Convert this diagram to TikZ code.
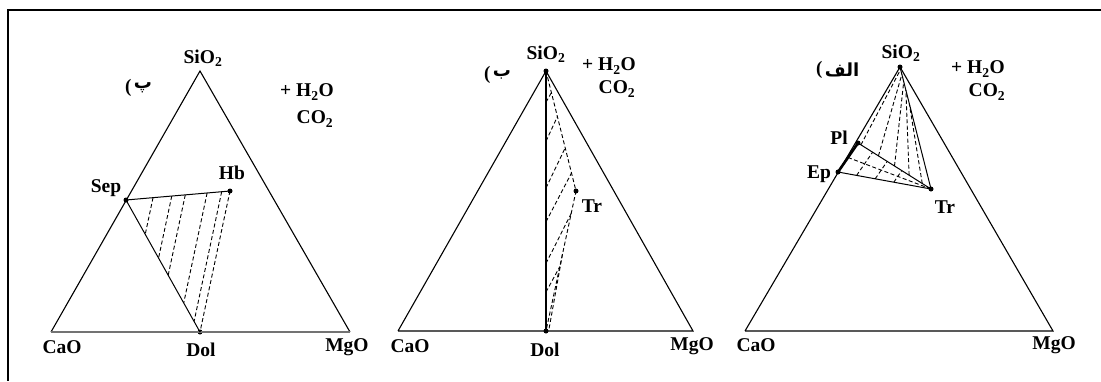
\documentclass[tikz,border=0pt]{standalone}
\usepackage{fontspec}
\setmainfont{Liberation Serif}
\newfontfamily\arabicfont[Script=Arabic]{DejaVu Sans}
\TeXXeTstate=1
\usetikzlibrary{calc}
\begin{document}
\begin{tikzpicture}[x=1pt,y=-1pt,
  lbl/.style={font=\fontsize{19.5}{21}\selectfont\bfseries, inner sep=0pt},
  plbl/.style={font=\fontsize{18}{20}\selectfont\arabicfont\bfseries, inner sep=0pt},
  parlbl/.style={font=\fontsize{19}{21}\selectfont\bfseries, inner sep=0pt, anchor=east},
  side/.style={line width=1.1pt},
  tie/.style={line width=1pt},
  hatch/.style={line width=0.9pt, dash pattern=on 4pt off 2.5pt},
  dot/.style={circle, fill, inner sep=0pt, minimum size=5pt}]
\useasboundingbox (0,0) rectangle (1101,381);
% frame
\coordinate (FR) at (1101,10);
\coordinate (FC) at (8,10);
\coordinate (FB) at (8,381);
\draw[line width=2.5pt] (FR) -- (FC) -- (FB);

% ---------- panel 1 ----------
\coordinate (A1) at (200,71);
\coordinate (C1) at (51,332);
\coordinate (M1) at (350,332);
\node[dot] (Sep) at (126,200) {};
\node[dot] (Hb) at (230,191) {};
\node[dot] (Dol1) at (200,332) {};
\draw[side] (C1) -- (A1) -- (M1);
\draw[line width=2.5pt, black!55] (C1) -- (M1);
\draw[tie] (Sep.center) -- (Hb.center);
\draw[tie] (Sep.center) -- (Dol1.center);
\draw[hatch] (Hb.center) -- (Dol1.center);
\foreach \f in {0.26,0.44,0.57,0.78,0.92}
  \draw[hatch] ($(Sep.center)!\f!(Hb.center)$) -- ($(Sep.center)!\f!(Dol1.center)$);
\node[lbl] (tA1) at (203,58) {SiO\textsubscript{2}};
\node[plbl] (tP1) at (143,88) {\beginR پ\endR};
\node[parlbl] (pP1) at ([xshift=-2pt]tP1.west) {(};
\node[lbl] (tH1) at (307,92) {+ H\textsubscript{2}O};
\node[lbl] (tO1) at (315,119) {CO\textsubscript{2}};
\node[lbl] (tSep) at (106,188) {Sep};
\node[lbl] (tHb) at (232,173) {Hb};
\node[lbl] (tC1) at (62,347) {CaO};
\node[lbl] (tD1) at (201,350) {Dol};
\node[lbl] (tM1) at (347,347) {MgO};

% ---------- panel 2 ----------
\node[dot] (A2) at (546,71) {};
\coordinate (C2) at (398,331);
\coordinate (M2) at (693,331);
\node[dot] (Dol2) at (546,331) {};
\node[dot] (Tr2) at (576,191) {};
\draw[side] (C2) -- (A2.center) -- (M2) -- (C2);
\draw[line width=1.3pt] (A2.center) -- (Dol2.center);
\draw[hatch] (A2.center) -- (Tr2.center) -- (Dol2.center);
\draw[hatch] ($(Tr2.center)!0.45!(Dol2.center)$) -- ($(Dol2.center)+(3,-2)$);
\draw[hatch] ($(A2.center)!0.12!(Dol2.center)$) -- ($(A2.center)!0.18!(Tr2.center)$);
\draw[hatch] ($(A2.center)!0.27!(Dol2.center)$) -- ($(A2.center)!0.38!(Tr2.center)$);
\draw[hatch] ($(A2.center)!0.45!(Dol2.center)$) -- ($(A2.center)!0.64!(Tr2.center)$);
\draw[hatch] ($(A2.center)!0.58!(Dol2.center)$) -- ($(A2.center)!0.85!(Tr2.center)$);
\draw[hatch] ($(A2.center)!0.74!(Dol2.center)$) -- ($(Tr2.center)!0.16!(Dol2.center)$);
\draw[hatch] ($(A2.center)!0.85!(Dol2.center)$) -- ($(Tr2.center)!0.54!(Dol2.center)$);
\node[lbl] (tA2) at (546,54) {SiO\textsubscript{2}};
\node[plbl] (tP2) at (502,75) {\beginR ب\endR};
\node[parlbl] (pP2) at ([xshift=-2pt]tP2.west) {(};
\node[lbl] (tH2) at (609,66) {+ H\textsubscript{2}O};
\node[lbl] (tO2) at (617,89) {CO\textsubscript{2}};
\node[lbl] (tTr2) at (592,206) {Tr};
\node[lbl] (tC2) at (410,346) {CaO};
\node[lbl] (tD2) at (545,350) {Dol};
\node[lbl] (tM2) at (692,346) {MgO};

% ---------- panel 3 ----------
\node[dot] (A3) at (900,67) {};
\coordinate (C3) at (745,331);
\coordinate (M3) at (1053,331);
\node[dot] (Pl) at (858,143) {};
\node[dot] (Ep) at (838,172) {};
\node[dot] (Tr3) at (931,189) {};
\draw[side] (C3) -- (A3.center) -- (M3) -- (C3);
\draw[line width=2.6pt] (Pl.center) -- (Ep.center);
\draw[tie] (A3.center) -- (Tr3.center);
\draw[tie] (Pl.center) -- (Tr3.center);
\draw[tie] (Ep.center) -- (Tr3.center);
\draw[hatch] ($(Pl.center)!0.5!(Ep.center)$) -- (Tr3.center);
\foreach \f/\g in {0.04/0.02,0.28/0.06,0.5/0.12,0.7/0.19,0.88/0.3}
  \draw[hatch] ($(Pl.center)!\f!(Tr3.center)$) -- ($(A3.center)!\g!(Tr3.center)$);
\foreach \f in {0.2,0.4,0.6}
  \draw[hatch] ($(Ep.center)!\f!(Tr3.center)$) -- ($(Pl.center)!\f!(Tr3.center)$);
\node[lbl] (tA3) at (901,53) {SiO\textsubscript{2}};
\node[plbl] (tP3) at (842,70) {\beginR الف\endR};
\node[parlbl] (pP3) at ([xshift=-2pt]tP3.west) {(};
\node[lbl] (tH3) at (978,69) {+ H\textsubscript{2}O};
\node[lbl] (tO3) at (987,92) {CO\textsubscript{2}};
\node[lbl] (tPl) at (839,138) {Pl};
\node[lbl] (tEp) at (819,174) {Ep};
\node[lbl] (tTr3) at (945,207) {Tr};
\node[lbl] (tC3) at (756,345) {CaO};
\node[lbl] (tM3) at (1054,345) {MgO};
\end{tikzpicture}
\end{document}
